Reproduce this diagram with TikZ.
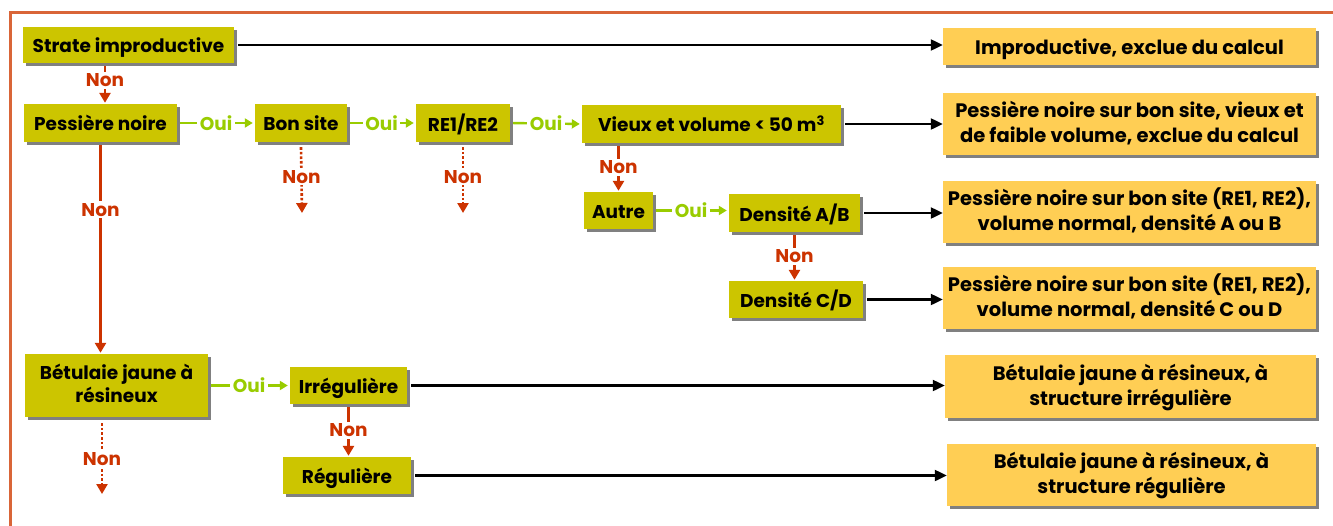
\documentclass[tikz,border=0pt]{standalone}
\usepackage{fontspec}
\setmainfont{Poppins}
\usetikzlibrary{arrows.meta,shadows}
\definecolor{boxolive}{RGB}{204,197,0}
\definecolor{resyel}{RGB}{255,206,84}
\definecolor{ouigreen}{RGB}{153,204,0}
\definecolor{nonred}{RGB}{204,51,0}
\definecolor{framecol}{RGB}{217,101,56}
\definecolor{shadowgray}{RGB}{128,128,128}
\newcommand{\lowertxt}[2][3pt]{\raisebox{-#1}[\height][\depth]{\begin{tabular}{@{}c@{}}#2\end{tabular}}}
\begin{document}
\begin{tikzpicture}[x=1pt,y=-1pt,
  shad/.style={drop shadow={shadow xshift=3pt,shadow yshift=-3pt,fill=shadowgray,opacity=1}},
  dec/.style={shad,fill=boxolive,inner sep=0pt,align=center,font=\bfseries\fontsize{18.5}{23}\selectfont},
  res/.style={shad,fill=resyel,inner sep=0pt,align=center,font=\bfseries\fontsize{19.5}{25}\selectfont},
  ouiline/.style={draw=ouigreen,line width=2.4pt,-{Triangle[width=9pt,length=8pt]},shorten <=3pt,shorten >=2pt},
  ouilab/.style={fill=white,text=ouigreen,inner sep=2.5pt,font=\bfseries\fontsize{18.5}{22}\selectfont},
  nonline/.style={draw=nonred,line width=2.6pt,-{Triangle[width=11pt,length=10pt]},shorten <=3pt,shorten >=1pt},
  nondot/.style={draw=nonred,line width=2.6pt,dotted,-{Triangle[width=11pt,length=10pt]}},
  nonlab/.style={fill=white,text=nonred,inner sep=2pt,font=\bfseries\fontsize{18.5}{22}\selectfont},
  resarrow/.style={draw=black,line width=2.2pt,-{Triangle[width=11pt,length=12pt]},shorten <=4pt}
]
\useasboundingbox (0,0) rectangle (1333,525);
\draw[framecol,line width=3pt] (10,530) -- (10,12) -- (1340,12);

% decision boxes
\node[dec,minimum width=211,minimum height=36] (strate) at (128.5,45) {\lowertxt{Strate improductive}};
\node[dec,minimum width=153,minimum height=38] (pess) at (100.5,123) {\lowertxt{Pessière noire}};
\node[dec,minimum width=92,minimum height=38] (bonsite) at (301,123) {\lowertxt{Bon site}};
\node[dec,minimum width=94,minimum height=38] (re) at (463,123) {\lowertxt{RE1/RE2}};
\node[dec,minimum width=259,minimum height=38] (vieux) at (711.5,124) {\lowertxt{Vieux et volume < 50 m\textsuperscript{3}}};
\node[dec,minimum width=69,minimum height=37] (autre) at (618.5,210.5) {\lowertxt{Autre}};
\node[dec,minimum width=131,minimum height=38] (dab) at (794.5,213) {\lowertxt{Densité A/B}};
\node[dec,minimum width=134,minimum height=37] (dcd) at (796,299.5) {\lowertxt{Densité C/D}};
\node[dec,minimum width=183,minimum height=63] (betul) at (116.5,385.5) {\lowertxt[1pt]{Bétulaie jaune à\\résineux}};
\node[dec,minimum width=117,minimum height=37] (irr) at (348.5,385.5) {\lowertxt{Irrégulière}};
\node[dec,minimum width=128,minimum height=37] (reg) at (347,475.5) {\lowertxt{Régulière}};

% result boxes
\node[res,minimum width=373,minimum height=37] (r1) at (1129.5,46.5) {\lowertxt{Improductive, exclue du calcul}};
\node[res,minimum width=373,minimum height=62] (r2) at (1129.5,124) {\lowertxt[1pt]{Pessière noire sur bon site, vieux et\\de faible volume, exclue du calcul}};
\node[res,minimum width=373,minimum height=62] (r3) at (1129.5,212) {\lowertxt[1pt]{Pessière noire sur bon site (RE1, RE2),\\volume normal, densité A ou B}};
\node[res,minimum width=373,minimum height=62] (r4) at (1129.5,298) {\lowertxt[1pt]{Pessière noire sur bon site (RE1, RE2),\\volume normal, densité C ou D}};
\node[res,minimum width=371,minimum height=63] (r5) at (1130.5,386.5) {\lowertxt[1pt]{Bétulaie jaune à résineux, à\\structure irrégulière}};
\node[res,minimum width=369,minimum height=62] (r6) at (1131.5,475) {\lowertxt[1pt]{Bétulaie jaune à résineux, à\\structure régulière}};

% black arrows to results
\draw[resarrow] (strate.east) -- (strate.east -| r1.west);
\draw[resarrow] (vieux.east) -- (vieux.east -| r2.west);
\draw[resarrow] (dab.east) -- (dab.east -| r3.west);
\draw[resarrow] (dcd.east) -- (dcd.east -| r4.west);
\draw[resarrow] (irr.east) -- (irr.east -| r5.west);
\draw[resarrow] (reg.east) -- (reg.east -| r6.west);

% Oui connectors
\draw[ouiline] (pess.east) -- (bonsite.west) node[ouilab,midway] {Oui};
\draw[ouiline] (bonsite.east) -- (re.west) node[ouilab,midway] {Oui};
\draw[ouiline] (re.east) -- (vieux.west) node[ouilab,midway] {Oui};
\draw[ouiline] (autre.east) -- (autre.east -| dab.west) node[ouilab,midway] {Oui};
\draw[ouiline] (betul.east |- irr.west) -- (irr.west) node[ouilab,midway] {Oui};

% Non connectors (solid)
\draw[nonline] ([xshift=-23.5pt]strate.south) -- ([xshift=-23.5pt]strate.south |- pess.north) node[nonlab,pos=0.42] {Non};
\draw[nonline] (pess.south) -- (pess.south |- betul.north) node[nonlab,pos=0.32] {Non};
\draw[nonline] (autre.north |- vieux.south) -- (autre.north) node[nonlab,midway] {Non};
\draw[nonline] (dab.south) -- (dab.south |- dcd.north) node[nonlab,midway] {Non};
\draw[nonline] (irr.south) -- (irr.south |- reg.north) node[nonlab,midway] {Non};

% Non connectors (dotted, open ends)
\coordinate (bsend) at (302,213);
\coordinate (reend) at (463,213);
\coordinate (btend) at (102,494);
\draw[nondot] ([yshift=-5pt]bonsite.south) -- (bsend) node[nonlab,pos=0.45] {Non};
\draw[nondot] ([yshift=-5pt]re.south) -- (reend) node[nonlab,pos=0.45] {Non};
\draw[nondot] ([xshift=-14.5pt,yshift=-6pt]betul.south) -- (btend) node[nonlab,pos=0.5] {Non};
\end{tikzpicture}
\end{document}
